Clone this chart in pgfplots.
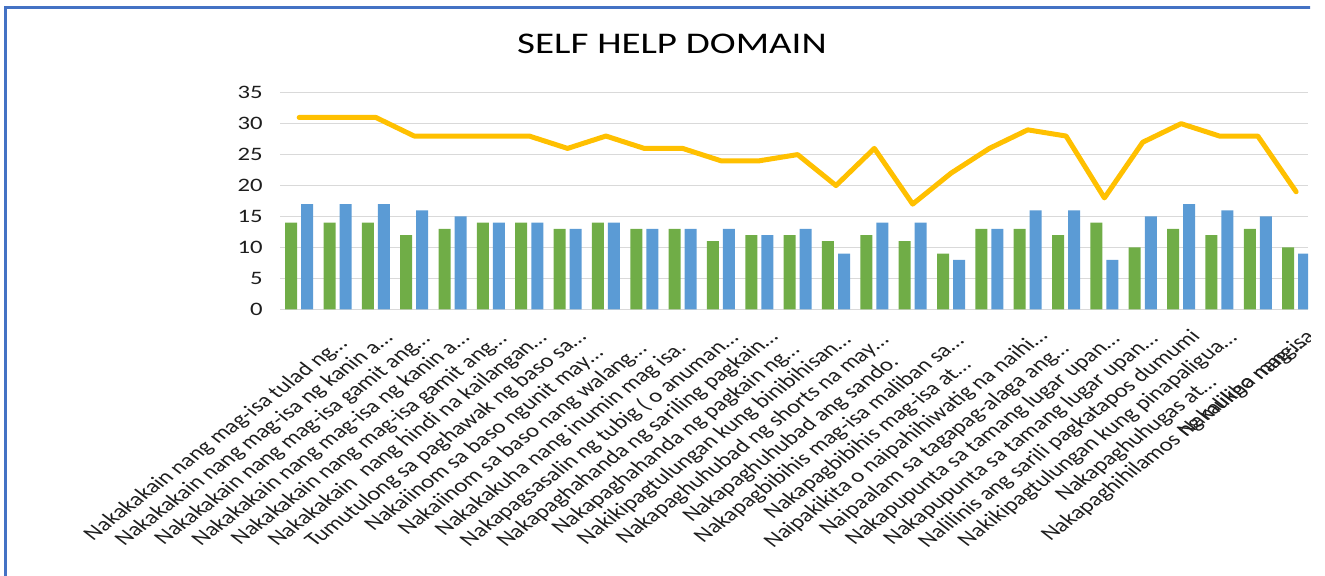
\documentclass[border=0pt]{standalone}
\usepackage{pgfplots}
\pgfplotsset{compat=1.18}
\usepackage{pgfplotstable}
\usepackage{fontspec}
\setmainfont{Carlito}[FakeStretch=1.3]
\newfontfamily\labfont{Carlito}
\definecolor{cgreen}{HTML}{70AD47}
\definecolor{cblue}{HTML}{5B9BD5}
\definecolor{corange}{HTML}{FFC000}
\definecolor{cgrid}{HTML}{D9D9D9}
\definecolor{cborder}{HTML}{4472C4}
\definecolor{ctext}{HTML}{1E1E1E}
\pgfplotstableread{
x g b t
0 14 17 31
1 14 17 31
2 14 17 31
3 12 16 28
4 13 15 28
5 14 14 28
6 14 14 28
7 13 13 26
8 14 14 28
9 13 13 26
10 13 13 26
11 11 13 24
12 12 12 24
13 12 13 25
14 11 9 20
15 12 14 26
16 11 14 17
17 9 8 22
18 13 13 26
19 13 16 29
20 12 16 28
21 14 8 18
22 10 15 27
23 13 17 30
24 12 16 28
25 13 15 28
26 10 9 19
}\datatable
\begin{document}
\begin{tikzpicture}
\useasboundingbox (-140pt,-132.85pt) rectangle (522.5pt,154.65pt);
\clip (-140pt,-132.85pt) rectangle (515pt,154.65pt);
\draw[cborder, line width=1.5pt] (-137.2pt,-140pt) -- (-137.2pt,150.8pt) -- (530pt,150.8pt);
\node[anchor=base, text=black, font=\fontsize{15}{18}\selectfont] at (196pt,128pt) {SELF HELP DOMAIN};
\begin{axis}[
  at={(0pt,0pt)}, anchor=south west,
  scale only axis, width=514pt, height=108.3pt,
  xmin=-0.5, xmax=26.31, ymin=0, ymax=35,
  ytick={0,5,...,35},
  xtick={0,...,26},
  xticklabels={
    {Nakakakain nang mag-isa tulad ng…},
    {Nakakakain nang mag-isa ng kanin a…},
    {Nakakakain nang mag-isa gamit ang…},
    {Nakakakain nang mag-isa ng kanin a…},
    {Nakakakain nang mag-isa gamit ang…},
    {Nakakakain\ \ nang hindi na kailangan…},
    {Tumutulong sa paghawak ng baso sa…},
    {Nakaiinom sa baso ngunit may…},
    {Nakaiinom sa baso nang walang…},
    {Nakakakuha nang inumin mag isa.},
    {Nakapagsasalin ng tubig ( o anuman…},
    {Nakapaghahanda ng sariling pagkain…},
    {Nakapaghahanda ng pagkain ng…},
    {Nakikipagtulungan kung binibihisan…},
    {Nakapaghuhubad ng shorts na may…},
    {Nakapaghuhubad ang sando.},
    {Nakapagbibihis mag-isa maliban sa…},
    {Nakapagbibihis mag-isa at…},
    {Naipakikita o naipahihiwatig na naihi…},
    {Naipaalam sa tagapag-alaga ang…},
    {Nakapupunta sa tamang lugar upan…},
    {Nakapupunta sa tamang lugar upan…},
    {Nalilinis ang sarili pagkatapos dumumi},
    {Nakikipagtulungan kung pinapaligua…},
    {Nakapaghuhugas at…},
    {Nakapaghihilamos ng mukha nang…},
    {}
  },
  extra x ticks={25},
  extra x tick labels={{\hspace*{85pt}Nakaliligo mag-isa…}},
  ymajorgrids, grid style={cgrid, line width=0.6pt},
  axis line style={draw=none},
  major tick length=0pt,
  tick style={draw=none},
  /pgf/number format/assume math mode=true,
  yticklabel style={font=\fontsize{9.5}{11}\selectfont, text=ctext, anchor=east, inner sep=0pt, xshift=-8.5pt},
  xticklabel style={font=\labfont\fontsize{9.6}{11}\selectfont, text=ctext, anchor=center, inner sep=0pt, xshift=-41.5pt, yshift=-65pt, cm={0.9192,0.7071,-0.9192,0.7071,(0,0)}},
  clip=true,
]
\addplot[ybar, bar width=0.313, bar shift=-0.209, fill=cgreen, draw=none] table[x=x, y=g] {\datatable};
\addplot[ybar, bar width=0.313, bar shift=0.209, fill=cblue, draw=none] table[x=x, y=b] {\datatable};
\addplot[corange, line width=2.5pt, line join=round, line cap=round, mark=none] table[x=x, y=t] {\datatable};
\end{axis}
\end{tikzpicture}
\end{document}
